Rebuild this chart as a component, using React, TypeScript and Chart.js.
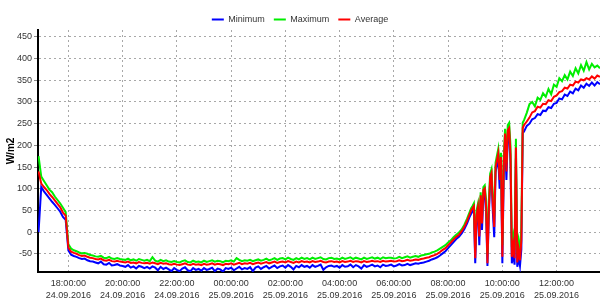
import React, { useEffect, useRef } from "react";
import { Chart, registerables } from "chart.js";

Chart.register(...registerables);

// Sampling schedule (hours from 24.09.2016 00:00): first sample 16:54.
// 6-minute samples, 3-minute samples through the cloudy spell 08:51-10:48, then 6-minute again.
const sampleBlockStarts = [16.9, 32.85, 34.9];
const sampleBlockSteps = [0.1, 0.05, 0.1];
const sampleBlockCounts = [160, 40, 28];

const seriesNames = ["Minimum", "Maximum", "Average"];
const seriesColors = ["#0000ff", "#00ee00", "#ff0000"];

// W/m2
const minimum = [
  0, 104, 94, 86, 78, 70, 63, 55, 47, 35,
  28, -42, -52, -55, -57, -60, -62, -61, -65, -67,
  -68, -70, -72, -68, -74, -75, -71, -77, -76, -74,
  -77, -78, -80, -76, -82, -79, -84, -78, -80, -83,
  -80, -84, -79, -82, -88, -80, -85, -82, -86, -90,
  -83, -87, -90, -84, -81, -88, -90, -83, -87, -85,
  -89, -83, -87, -85, -82, -90, -84, -86, -91, -83,
  -85, -82, -88, -84, -80, -86, -83, -85, -81, -90,
  -82, -79, -85, -81, -78, -84, -80, -77, -83, -79,
  -77, -82, -76, -80, -86, -78, -81, -76, -80, -78,
  -82, -76, -80, -78, -75, -87, -81, -78, -77, -80,
  -78, -82, -76, -80, -79, -75, -81, -76, -79, -84,
  -76, -80, -78, -75, -79, -77, -81, -75, -78, -77,
  -75, -79, -77, -74, -77, -76, -73, -76, -74, -72,
  -73, -71, -70, -68, -66, -63, -61, -58, -54, -49,
  -44, -37, -30, -23, -16, -11, -3, 7, 20, 36,
  // 3-minute samples
  42, 48, 52, -72, 30, 48, -30, 75, 5, 88,
  92, 45, -78, 35, 118, 125, 45, -12, 138, 155,
  170, 100, 160, -72, 130, 212, 120, 222, 228, 160,
  -72, -50, -75, 170, -80, -60, -78, -40, 228, 232,
  // 6-minute samples
  245, 250, 260, 263, 272, 270, 280, 279, 288, 286,
  296, 298, 308, 306, 317, 314, 324, 320, 331, 327,
  338, 333, 342, 337, 345, 338, 346, 341,
];

const maximum = [
  175, 128, 118, 108, 98, 92, 82, 74, 66, 56,
  46, -28, -38, -42, -44, -47, -49, -48, -50, -53,
  -54, -56, -57, -55, -59, -60, -57, -61, -62, -60,
  -62, -63, -64, -61, -65, -63, -66, -62, -64, -66,
  -64, -67, -58, -66, -68, -64, -67, -65, -68, -69,
  -67, -69, -70, -67, -65, -69, -70, -66, -69, -68,
  -70, -66, -69, -67, -65, -68, -66, -67, -70, -66,
  -67, -65, -68, -60, -64, -67, -65, -66, -64, -67,
  -65, -63, -66, -64, -61, -65, -63, -60, -64, -61,
  -60, -63, -59, -62, -64, -60, -63, -59, -62, -60,
  -63, -59, -62, -60, -58, -62, -63, -60, -59, -62,
  -61, -63, -59, -62, -60, -58, -62, -59, -61, -63,
  -59, -62, -60, -58, -61, -59, -62, -58, -60, -59,
  -59, -61, -60, -57, -60, -58, -56, -59, -57, -55,
  -57, -54, -53, -51, -50, -47, -45, -42, -38, -34,
  -30, -24, -19, -12, -6, -1, 6, 17, 31, 47,
  // 3-minute samples
  55, 60, 66, -35, 50, 65, 10, 92, 40, 104,
  108, 75, -50, 70, 135, 145, 80, 35, 160, 176,
  192, 140, 183, -30, 170, 238, 160, 247, 252, 200,
  -35, -10, -40, 215, -50, -20, -45, 10, 252, 258,
  // 6-minute samples
  275, 295, 300, 290, 310, 305, 320, 312, 330, 318,
  340, 335, 355, 348, 362, 352, 370, 360, 378, 366,
  385, 372, 392, 375, 388, 380, 384, 378,
];

const average = [
  140, 112, 104, 97, 88, 81, 73, 65, 57, 45,
  38, -36, -45, -48, -50, -53, -55, -54, -57, -59,
  -60, -62, -63, -61, -65, -66, -64, -67, -68, -66,
  -68, -69, -70, -68, -71, -70, -72, -69, -71, -72,
  -71, -73, -70, -72, -74, -71, -73, -72, -74, -75,
  -73, -75, -76, -74, -72, -75, -76, -73, -75, -74,
  -76, -73, -75, -74, -72, -75, -73, -74, -76, -73,
  -74, -72, -75, -73, -71, -74, -72, -73, -71, -74,
  -72, -70, -73, -71, -69, -72, -70, -68, -71, -69,
  -68, -70, -67, -69, -71, -68, -70, -67, -69, -68,
  -70, -67, -69, -68, -66, -69, -70, -68, -67, -69,
  -68, -70, -67, -69, -68, -66, -69, -67, -68, -70,
  -67, -69, -68, -66, -68, -67, -69, -66, -68, -67,
  -66, -68, -67, -65, -67, -66, -64, -66, -65, -63,
  -64, -62, -61, -59, -58, -55, -53, -50, -46, -41,
  -37, -30, -24, -17, -11, -6, 2, 12, 26, 42,
  // 3-minute samples
  50, 55, 60, -60, 40, 58, -10, 85, 20, 97,
  101, 60, -72, 50, 127, 136, 60, 12, 150, 166,
  182, 120, 173, -57, 150, 227, 140, 235, 240, 180,
  -57, -30, -60, 195, -70, -40, -65, -18, 240, 247,
  // 6-minute samples
  255, 264, 276, 279, 289, 287, 296, 295, 304, 302,
  312, 315, 323, 325, 333, 331, 340, 338, 347, 345,
  352, 350, 355, 352, 359, 354, 361, 358,
];

const seriesValues = [minimum, maximum, average];
const seriesDrawOrder = [2, 1, 0];

// Axis ticks (hours counted from 24.09.2016 00:00)
const xTickHours = [18, 20, 22, 24, 26, 28, 30, 32, 34, 36];
const xTickLabels = [
  ["18:00:00", "24.09.2016"],
  ["20:00:00", "24.09.2016"],
  ["22:00:00", "24.09.2016"],
  ["00:00:00", "25.09.2016"],
  ["02:00:00", "25.09.2016"],
  ["04:00:00", "25.09.2016"],
  ["06:00:00", "25.09.2016"],
  ["08:00:00", "25.09.2016"],
  ["10:00:00", "25.09.2016"],
  ["12:00:00", "25.09.2016"],
];
const yTickValues = [-50, 0, 50, 100, 150, 200, 250, 300, 350, 400, 450];
const yAxisTitle = "W/m2";

const FONT = "'Liberation Sans', Arial, sans-serif";

function buildSampleHours(): number[] {
  const hours: number[] = [];
  sampleBlockStarts.forEach((start, b) => {
    for (let i = 0; i < sampleBlockCounts[b]; i++) hours.push(start + i * sampleBlockSteps[b]);
  });
  return hours;
}

const legendGap = {
  id: "legendGap",
  beforeInit(chart: any) {
    const legend = chart.legend;
    if (!legend) return;
    const orig = legend.fit;
    legend.fit = function () {
      orig.call(this);
      this.height -= 4;
    };
  },
};

export default function App() {
  const canvasRef = useRef<HTMLCanvasElement | null>(null);

  useEffect(() => {
    document.body.style.margin = "0";
    const canvas = canvasRef.current;
    if (!canvas) return;

    const hours = buildSampleHours();
    const datasets = seriesNames.map((name, s) => ({
      label: name,
      data: seriesValues[s].map((v, i) => ({ x: hours[i], y: v })),
      borderColor: seriesColors[s],
      backgroundColor: seriesColors[s],
      borderWidth: 2,
      pointRadius: 0,
      tension: 0,
      order: seriesDrawOrder[s],
    }));

    const chart = new Chart(canvas, {
      type: "line",
      data: { datasets },
      plugins: [legendGap],
      options: {
        responsive: false,
        animation: false,
        devicePixelRatio: 1,
        layout: { padding: { top: 6, left: 0, right: 0, bottom: 0 } },
        plugins: {
          legend: {
            position: "top",
            align: "center",
            labels: {
              boxWidth: 12,
              boxHeight: 0,
              padding: 9,
              color: "#333",
              font: { family: FONT, size: 9 },
              sort: (a: any, b: any) => a.datasetIndex - b.datasetIndex,
            },
          },
          tooltip: { enabled: false },
        },
        scales: {
          x: {
            type: "linear",
            min: 16.88,
            max: 37.6,
            afterBuildTicks: (s: any) => {
              s.ticks = xTickHours.map((v) => ({ value: v }));
            },
            afterFit: (s: any) => {
              s.height = 28;
            },
            ticks: {
              autoSkip: false,
              maxRotation: 0,
              minRotation: 0,
              padding: 5,
              color: "#333",
              font: { family: FONT, size: 9, lineHeight: 1.4 },
              callback: (_v: any, i: number) => xTickLabels[i],
            },
            grid: { color: "#a8a8a8", drawTicks: false },
            border: { color: "#000", width: 2, dash: [2, 3] },
          },
          y: {
            type: "linear",
            min: -92,
            max: 466,
            afterBuildTicks: (s: any) => {
              s.ticks = yTickValues.map((v) => ({ value: v }));
            },
            afterFit: (s: any) => {
              s.width = 38;
            },
            ticks: {
              padding: 2,
              color: "#333",
              font: { family: FONT, size: 9 },
            },
            grid: { color: "#a8a8a8", tickLength: 4, tickColor: "#888" },
            border: { color: "#000", width: 2, dash: [2, 3] },
            title: {
              display: true,
              text: yAxisTitle,
              color: "#000",
              font: { family: FONT, size: 10, weight: "bold" },
              padding: { top: 5, bottom: 0 },
            },
          },
        },
      },
    } as any);

    return () => chart.destroy();
  }, []);

  return (
    <div style={{ width: 600, height: 300 }}>
      <canvas ref={canvasRef} width={600} height={300} style={{ display: "block" }} />
    </div>
  );
}
